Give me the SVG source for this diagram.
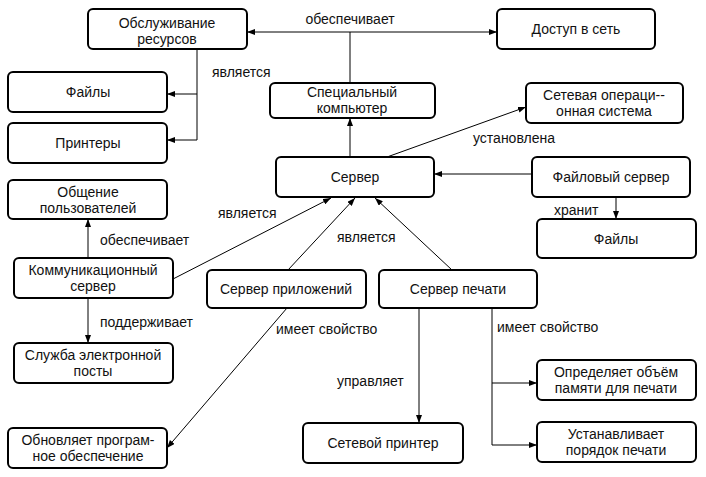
<svg xmlns="http://www.w3.org/2000/svg" width="706" height="477" viewBox="0 0 706 477">
<defs>
<style>
.box{fill:#fff;stroke:#000;stroke-width:2}
.t{font-family:"Liberation Sans",Arial,sans-serif;font-size:14px;fill:#111;text-anchor:middle}
.l{font-family:"Liberation Sans",Arial,sans-serif;font-size:14px;fill:#111}
.c{fill:none;stroke:#000;stroke-width:1}
</style>
<marker id="a" markerWidth="8" markerHeight="6" refX="8" refY="3" orient="auto" markerUnits="userSpaceOnUse">
<path d="M0,0 L8,3 L0,6 Z" fill="#000"/>
</marker>
</defs>
<rect width="706" height="477" fill="#fff"/>
<g id="connectors">
<path class="c" d="M197,49 V140"/>
<path class="c" d="M197,94 H167" marker-end="url(#a)"/>
<path class="c" d="M197,140 H167" marker-end="url(#a)"/>
<path class="c" d="M350,83 V32 H247" marker-end="url(#a)"/>
<path class="c" d="M350,32 H497" marker-end="url(#a)"/>
<path class="c" d="M350,157 V118" marker-end="url(#a)"/>
<path class="c" d="M387,157 L526,107" marker-end="url(#a)"/>
<path class="c" d="M532,174 H434" marker-end="url(#a)"/>
<path class="c" d="M616,197 V219" marker-end="url(#a)"/>
<path class="c" d="M88,258 V219" marker-end="url(#a)"/>
<path class="c" d="M88,298 V343" marker-end="url(#a)"/>
<path class="c" d="M173,279 L331,198" marker-end="url(#a)"/>
<path class="c" d="M288,270 L355,198" marker-end="url(#a)"/>
<path class="c" d="M452,270 L375,198" marker-end="url(#a)"/>
<path class="c" d="M287,308 L167,448" marker-end="url(#a)"/>
<path class="c" d="M419,308 V423" marker-end="url(#a)"/>
<path class="c" d="M492,308 V445"/>
<path class="c" d="M492,383 H537" marker-end="url(#a)"/>
<path class="c" d="M492,445 H537" marker-end="url(#a)"/>
<text class="t" x="350" y="24">обеспечивает</text>
<text class="l" x="212" y="77">является</text>
<text class="l" x="473" y="143">установлена</text>
<text class="l" x="554" y="215">хранит</text>
<text class="l" x="218" y="218">является</text>
<text class="l" x="100" y="245">обеспечивает</text>
<text class="l" x="337" y="242">является</text>
<text class="l" x="100" y="327">поддерживает</text>
<text class="l" x="276" y="334">имеет свойство</text>
<text class="l" x="497" y="332">имеет свойство</text>
<text class="l" x="337" y="386">управляет</text>
</g>
<g id="n-obsl"><rect class="box" x="88" y="9" width="159" height="40" rx="5"/><text class="t" x="167" y="28">Обслуживание</text><text class="t" x="167" y="44">ресурсов</text></g>
<g id="n-dostup"><rect class="box" x="497" y="9" width="158" height="40" rx="5"/><text class="t" x="576" y="34">Доступ в сеть</text></g>
<g id="n-faily1"><rect class="box" x="8" y="72" width="159" height="40" rx="5"/><text class="t" x="88" y="97">Файлы</text></g>
<g id="n-printery"><rect class="box" x="8" y="123" width="159" height="40" rx="5"/><text class="t" x="88" y="148">Принтеры</text></g>
<g id="n-spec"><rect class="box" x="270" y="83" width="165" height="35" rx="5"/><text class="t" x="352" y="97">Специальный</text><text class="t" x="352" y="113">компьютер</text></g>
<g id="n-os"><rect class="box" x="526" y="83" width="157" height="40" rx="5"/><text class="t" x="604" y="100">Сетевая операци--</text><text class="t" x="604" y="116">онная система</text></g>
<g id="n-server"><rect class="box" x="276" y="157" width="158" height="40" rx="5"/><text class="t" x="355" y="182">Сервер</text></g>
<g id="n-fserver"><rect class="box" x="532" y="157" width="158" height="40" rx="5"/><text class="t" x="611" y="182">Файловый сервер</text></g>
<g id="n-faily2"><rect class="box" x="537" y="219" width="159" height="39" rx="5"/><text class="t" x="616" y="244">Файлы</text></g>
<g id="n-obsch"><rect class="box" x="8" y="180" width="159" height="39" rx="5"/><text class="t" x="88" y="197">Общение</text><text class="t" x="88" y="213">пользователей</text></g>
<g id="n-komm"><rect class="box" x="14" y="258" width="159" height="40" rx="5"/><text class="t" x="93" y="275">Коммуникационный</text><text class="t" x="93" y="291">сервер</text></g>
<g id="n-prilozh"><rect class="box" x="207" y="270" width="159" height="38" rx="5"/><text class="t" x="286" y="294">Сервер приложений</text></g>
<g id="n-pechati"><rect class="box" x="379" y="270" width="158" height="38" rx="5"/><text class="t" x="458" y="294">Сервер печати</text></g>
<g id="n-pochta"><rect class="box" x="14" y="343" width="159" height="40" rx="5"/><text class="t" x="93" y="360">Служба электронной</text><text class="t" x="93" y="376">посты</text></g>
<g id="n-obnov"><rect class="box" x="8" y="428" width="159" height="40" rx="5"/><text class="t" x="88" y="445">Обновляет програм-</text><text class="t" x="88" y="461">ное обеспечение</text></g>
<g id="n-printer"><rect class="box" x="303" y="423" width="160" height="40" rx="5"/><text class="t" x="383" y="448">Сетевой принтер</text></g>
<g id="n-obem"><rect class="box" x="537" y="360" width="159" height="40" rx="5"/><text class="t" x="616" y="377">Определяет объём</text><text class="t" x="616" y="393">памяти для печати</text></g>
<g id="n-poryadok"><rect class="box" x="537" y="422" width="159" height="40" rx="5"/><text class="t" x="616" y="439">Устанавливает</text><text class="t" x="616" y="455">порядок печати</text></g>
</svg>
